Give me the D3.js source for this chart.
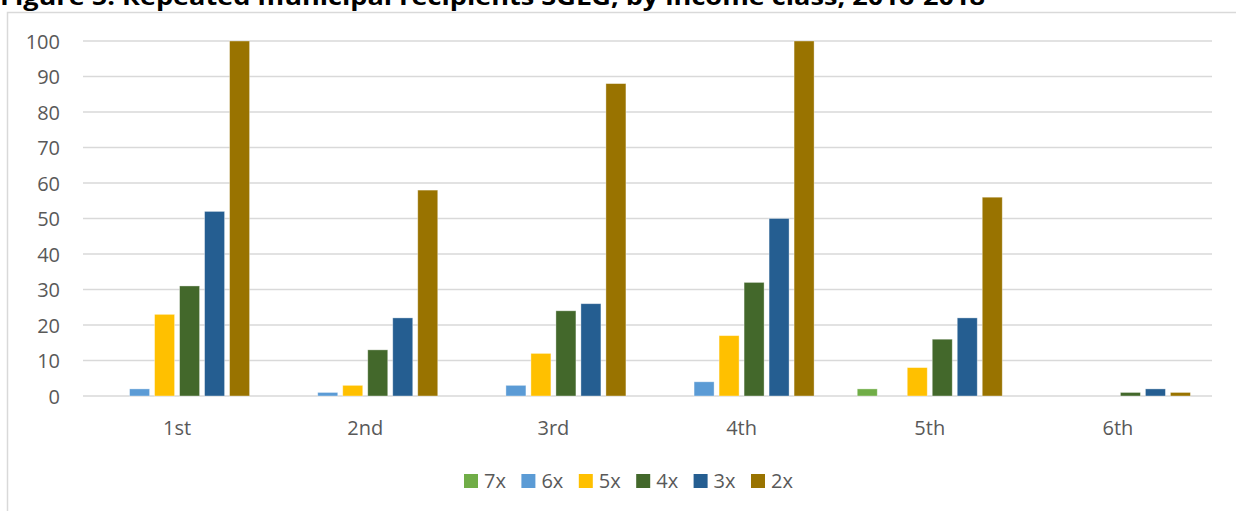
<!DOCTYPE html>
<html>
<head>
<meta charset="utf-8">
<script src="https://cdn.jsdelivr.net/npm/d3@7"></script>
<style>
  html, body { margin: 0; padding: 0; background: #fff; overflow: hidden; }
  svg { display: block; }
</style>
</head>
<body>
<svg id="chart" width="1236" height="511"></svg>
<script>
// Income classes and repeated-recipient counts per series
const categories = ["1st", "2nd", "3rd", "4th", "5th", "6th"];
const seriesNames = ["7x", "6x", "5x", "4x", "3x", "2x"];
const seriesColors = ["#70AD47", "#5B9BD5", "#FFC000", "#43682B", "#255E91", "#997300"];
const values7x = [0, 0, 0, 0, 2, 0];
const values6x = [2, 1, 3, 4, 0, 0];
const values5x = [23, 3, 12, 17, 8, 0];
const values4x = [31, 13, 24, 32, 16, 1];
const values3x = [52, 22, 26, 50, 22, 2];
const values2x = [100, 58, 88, 100, 56, 1];
const yTicks = [0, 10, 20, 30, 40, 50, 60, 70, 80, 90, 100];
const titleText = "Figure 5: Repeated municipal recipients SGLG, by income class, 2016-2018";

const seriesValues = [values7x, values6x, values5x, values4x, values3x, values2x];

const svg = d3.select("#chart");
const font = "'Open Sans', 'Liberation Sans', sans-serif";
const textColor = "#595959";
const gridColor = "#D9D9D9";

const plot = { left: 83, right: 1212, top: 41, bottom: 396 };

// Title, sitting just above the chart frame
const title = svg.append("text")
  .attr("x", 0).attr("y", 5)
  .attr("font-family", font)
  .attr("font-weight", 700)
  .attr("font-size", 24)
  .attr("fill", "#000")
  .text(titleText);
const tw = title.node().getComputedTextLength();
if (tw > 0) title.attr("textLength", 985).attr("lengthAdjust", "spacingAndGlyphs");

// Chart frame
svg.append("rect")
  .attr("x", 7.5).attr("y", 12.5)
  .attr("width", 1300).attr("height", 600)
  .attr("fill", "none")
  .attr("stroke", gridColor)
  .attr("stroke-width", 1.5);

const x = d3.scaleBand().domain(categories).range([plot.left, plot.right]).padding(0);
const y = d3.scaleLinear().domain([0, 100]).range([plot.bottom, plot.top]);

// Gridlines
svg.append("g")
  .selectAll("line")
  .data(yTicks)
  .join("line")
  .attr("x1", plot.left).attr("x2", plot.right)
  .attr("y1", d => y(d)).attr("y2", d => y(d))
  .attr("stroke", gridColor)
  .attr("stroke-width", 1.6);

// Y axis labels
const yAxis = d3.axisLeft(y).tickValues(yTicks).tickSize(0).tickPadding(0).tickFormat(d3.format("d"));
const yg = svg.append("g")
  .attr("transform", `translate(${plot.left - 23},0)`)
  .call(yAxis);
yg.select(".domain").remove();
yg.selectAll("text")
  .attr("font-family", font)
  .attr("font-size", 20)
  .attr("fill", textColor)
  .attr("dy", "0.35em");

// X axis labels
const xAxis = d3.axisBottom(x).tickSize(0).tickPadding(0);
const xg = svg.append("g")
  .attr("transform", `translate(0,${plot.bottom})`)
  .call(xAxis);
xg.select(".domain").remove();
xg.selectAll("text")
  .attr("font-family", font)
  .attr("font-size", 20)
  .attr("fill", textColor)
  .attr("dy", 0)
  .attr("y", 39);

// Bars
const groupWidth = 145;
const inner = d3.scaleBand().domain(seriesNames).range([0, groupWidth]).paddingInner(0.2).paddingOuter(0);

const rows = [];
categories.forEach((c, ci) => {
  seriesNames.forEach((s, si) => {
    rows.push({ category: c, series: s, value: seriesValues[si][ci], color: seriesColors[si] });
  });
});

svg.append("g")
  .selectAll("rect")
  .data(rows.filter(d => d.value > 0))
  .join("rect")
  .attr("x", d => x(d.category) + x.bandwidth() / 2 - groupWidth / 2 + inner(d.series))
  .attr("y", d => y(d.value))
  .attr("width", inner.bandwidth())
  .attr("height", d => y(0) - y(d.value))
  .attr("fill", d => d.color)
  .attr("stroke", "#ffffff")
  .attr("stroke-opacity", 0.45)
  .attr("stroke-width", 0.8);

// Legend
const legendStart = 464;
const legendStep = 57.4;
const legend = svg.append("g")
  .selectAll("g")
  .data(seriesNames)
  .join("g")
  .attr("transform", (d, i) => `translate(${legendStart + i * legendStep},474)`);
legend.append("rect")
  .attr("width", 14).attr("height", 14)
  .attr("fill", (d, i) => seriesColors[i]);
legend.append("text")
  .attr("x", 20).attr("y", 14)
  .attr("font-family", font)
  .attr("font-size", 20)
  .attr("fill", textColor)
  .text(d => d);
</script>
</body>
</html>
